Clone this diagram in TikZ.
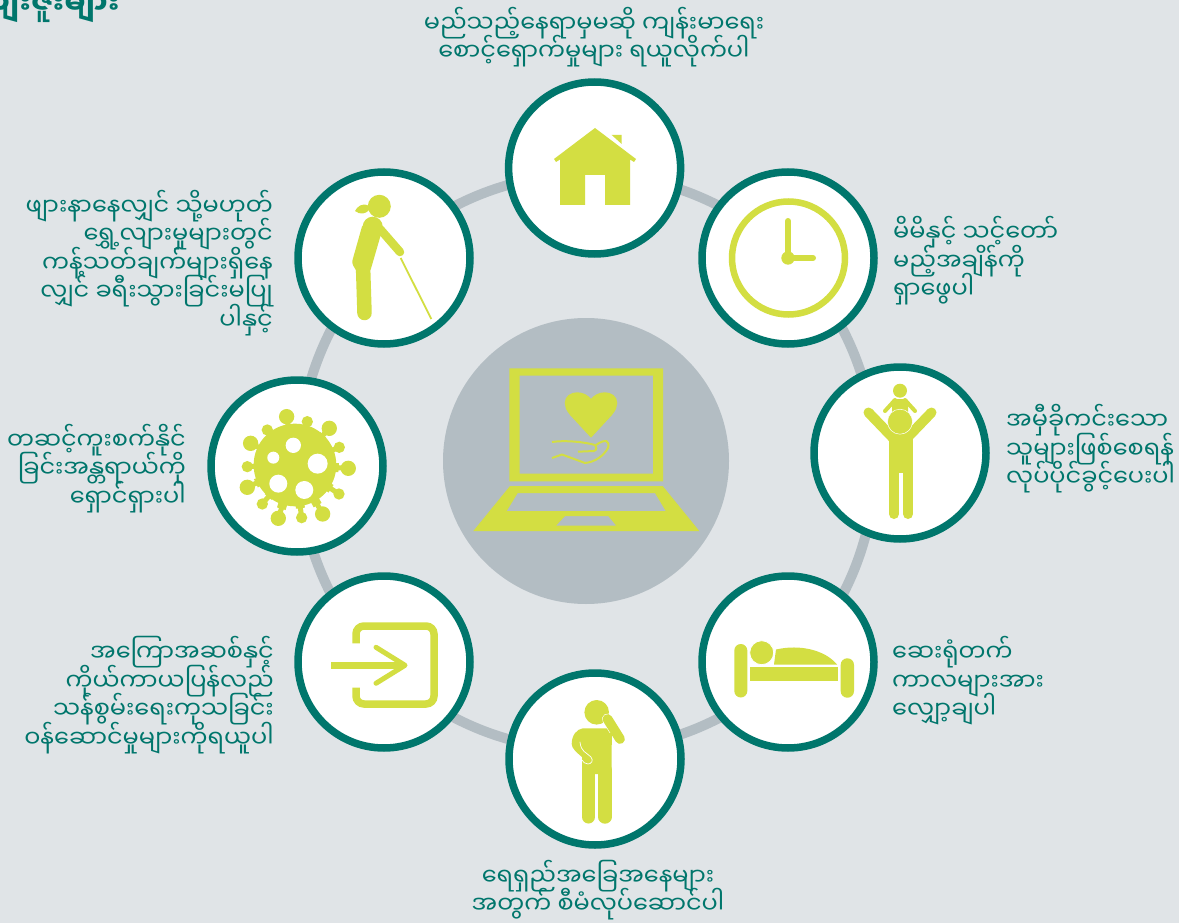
\documentclass[tikz,border=0pt]{standalone}
\usepackage{fontspec}
\usetikzlibrary{calc}
\newfontfamily\mm[Script=Myanmar]{Noto Sans Myanmar UI}
\definecolor{bgc}{HTML}{E0E4E7}
\definecolor{teal}{HTML}{00766C}
\definecolor{lime}{HTML}{D3DE42}
\definecolor{ringc}{HTML}{B3BDC3}
\newcommand\fl{\rule{0pt}{30pt}}
\newcommand\tightl{\lineskiplimit -1000pt\relax}
\tikzset{
  badge/.style={circle,draw=teal,line width=7.5pt,fill=white,minimum size=172pt,inner sep=0pt},
  lab/.style={text=teal,inner sep=0pt,font=\mm\fontsize{24}{28.5}\selectfont\tightl},
  wl/.style={draw=white,line width=0.7pt}
}
\begin{document}
\begin{tikzpicture}[x=1pt,y=-1pt,line cap=butt]
\useasboundingbox (0,0) rectangle (1179,923);
\clip (0,0) rectangle (1179,923);
\fill[bgc] (0,0) rectangle (1179,923);
\coordinate (cen) at (587,462);
\draw[ringc,line width=10pt] (cen) circle (288);
\node[circle,fill=ringc,minimum size=286pt,inner sep=0pt] (hub) at (586,461) {};
% badges
\node[badge] (home) at (594.6,168) {};
\node[badge] (clock) at (788,258) {};
\node[badge] (parent) at (900,453) {};
\node[badge] (bed) at (788,662) {};
\node[badge] (think) at (595,759) {};
\node[badge] (enter) at (384,662) {};
\node[badge] (virus) at (297,466) {};
\node[badge] (walk) at (384,258) {};
% laptop
\fill[lime,even odd rule] (509.3,368.3) rectangle (663,481.3) (519.7,375.7) rectangle (653,473.7);
\fill[lime,even odd rule] (510,486) -- (662.7,486) -- (699.3,531) -- (473.3,531) -- cycle
  (517.7,493) -- (655,493) -- (665.7,511) -- (506.7,511) -- cycle
  (565,516) -- (608.3,516) -- (616.3,525.7) -- (556,525.7) -- cycle;
\fill[lime] (591,437.7) -- (570,415) .. controls (566,410) and (564.7,407) .. (564.7,403) .. controls (564.7,396) and (571,392.3) .. (577,392.3) .. controls (583,392.3) and (588,395) .. (591,399) .. controls (594,395) and (599,392.3) .. (605,392.3) .. controls (611,392.3) and (617.3,396) .. (617.3,403) .. controls (617.3,407) and (616,410) .. (612,415) -- cycle;
\draw[lime,line width=2pt,line join=round] (552,442) .. controls (565,440) and (585,442) .. (595,445) .. controls (597,447) and (597,450) .. (594,451) -- (578,451.7);
\draw[lime,line width=2pt,line join=round] (552,458) -- (562,454.5) -- (585,463) .. controls (596,462) and (604,455) .. (608,448) .. controls (610,441) and (606,438) .. (596,445);
% house
\fill[lime] (595,128) -- (636,159) -- (634,162) -- (630,159.5) -- (630,205) -- (605,205) -- (605,175) -- (585,175) -- (585,205) -- (560,205) -- (560,159.5) -- (556,162) -- (554,159) -- cycle;
\fill[lime] (611.7,135) -- (621.7,135) -- (621.7,144) -- cycle;
% clock
\draw[lime,line width=6.5pt] (788.5,258) circle (56.5);
\draw[lime,line width=6pt,line cap=round] (788,221) -- (788,258) -- (813,258);
\fill[lime] (788,258) circle (6.7);
% parent and child
\fill[lime] (900,390.7) circle (7);
\draw[lime,line width=4pt,line cap=round] (895,400) -- (885,411);
\draw[lime,line width=4pt,line cap=round] (905,400) -- (915,411);
\fill[lime,rounded corners=2pt] (892,399) rectangle (908,415);
\draw[lime,line width=10pt,line cap=round] (868.5,412.5) -- (893,438);
\draw[lime,line width=10pt,line cap=round] (931.5,412.5) -- (907,438);
\fill[lime] (889,432) rectangle (913,473);
\draw[lime,line width=10pt,line cap=round] (894,465) -- (894,514);
\draw[lime,line width=10pt,line cap=round] (908,465) -- (908,514);
\fill[lime,draw=white,line width=0.5pt] (900,421.7) circle (12.5);
% bed
\fill[lime,rounded corners=6.5pt] (734.3,644) rectangle (747.3,697.5);
\fill[lime,rounded corners=6.5pt] (840.7,658.3) rectangle (854,697.7);
\fill[lime] (750,666.7) rectangle (837.7,681);
\fill[lime] (774,664.5) -- (776,649.5) .. controls (800,644) and (825,650) .. (837,664.5) -- cycle;
\fill[lime,draw=white,line width=0.8pt] (761.7,652.7) circle (12);
% thinking person
\fill[lime] (596.7,712.3) circle (12.3);
\fill[lime] (583,728.3) -- (611.7,728.3) -- (611.7,774) -- (582,774) -- (582,757) .. controls (576,752) and (571.7,748) .. (571.7,744) .. controls (571.7,735) and (577,729) .. (583,728.3) -- cycle;
\draw[lime,line width=13pt,line cap=round] (588.5,770) -- (588.5,817);
\draw[lime,line width=13.4pt,line cap=round] (605,770) -- (605,817);
\draw[wl,line cap=round] (580,742) .. controls (581,752) and (586,752) .. (591,757) .. controls (594,761) and (591,764) .. (588,764) .. controls (585,764) and (583,762) .. (582,760);
\draw[white,line width=11pt,line cap=round] (607.5,719) -- (620,739);
\draw[lime,line width=9.8pt,line cap=round] (607.5,719) -- (620,739);
\fill[lime] (611.7,733) rectangle (606,745);
% enter
\draw[lime,line width=7.5pt,rounded corners=8pt] (356,643.3) -- (356,626) -- (434,626) -- (434,704) -- (356,704) -- (356,687.7);
\draw[lime,line width=7.5pt] (331,665.5) -- (401,665.5);
\draw[lime,line width=5pt,line cap=round,line join=round] (376,647.3) -- (405,665.3) -- (376,683.3);
% virus
\begin{scope}[shift={(0,370)},scale=0.3333]
\coordinate (vc) at (885,285);
\fill[lime] (vc) circle (124);
\foreach \x/\y/\r in {860/140/23,922/155/17,988/175/23,1018/232/17,1045/295/23,1017/372/17,968/432/23,905/443/17,835/445/23,787/402/17,742/352/23,742/290/17,752/220/23,802/180/17}{
  \draw[lime,line width=5pt] (vc) -- (\x,\y);
  \draw[lime,line width=9pt] (vc) -- ($(vc)!0.82!(\x,\y)$);
  \fill[lime] (\x,\y) circle (\r);
}
\foreach \x/\y/\r in {880/226/23,820/263/18,953/281/30,835/341/27,913/360/27}{
  \fill[white] (\x,\y) circle (\r);
}
\end{scope}
% walker
\fill[lime] (379.3,206.3) circle (11.5);
\fill[lime] (369,206) .. controls (362,202) and (357,207) .. (355,211) .. controls (360,215) and (366,214) .. (369,210) -- cycle;
\draw[lime,line width=1.8pt] (400.7,258) -- (431.3,319);
\draw[lime,line width=8.5pt,line cap=round] (380,229) -- (400,252);
\fill[lime] (372.7,226.7) circle (10);
\fill[lime,rounded corners=3pt] (362.7,224) -- (382.5,229) -- (370,272) -- (357,272) -- (351.7,263) -- cycle;
\draw[lime,line width=14.5pt,line cap=round] (363,265) -- (364.5,313);
% labels
\node[lab,anchor=north east,align=right,font=\mm\fontsize{30}{30}\selectfont\bfseries] (ltitle) at (120,-17) {\fl အကျိုးကျေးဇူးများ};
\node[lab,anchor=north,align=center] (lhome) at (594,2) {\fl မည်သည့်နေရာမှမဆို ကျန်းမာရေး\\စောင့်ရှောက်မှုများ ရယူလိုက်ပါ};
\node[lab,anchor=north west,align=left] (lclock) at (893,211.5) {\fl မိမိနှင့် သင့်တော်\\မည့်အချိန်ကို\\ရှာဖွေပါ};
\node[lab,anchor=north west,align=left] (lparent) at (1006,399.5) {\fl အမှီခိုကင်းသော\\သူများဖြစ်စေရန်\\လုပ်ပိုင်ခွင့်ပေးပါ};
\node[lab,anchor=north west,align=left] (lbed) at (892,631.5) {\fl ဆေးရုံတက်\\ကာလများအား\\လျှော့ချပါ};
\node[lab,anchor=north,align=center] (lthink) at (598,855) {\fl ရေရှည်အခြေအနေများ\\အတွက် စီမံလုပ်ဆောင်ပါ};
\node[lab,anchor=north east,align=right] (lenter) at (274,631.5) {\fl အကြောအဆစ်နှင့်\\ကိုယ်ကာယပြန်လည်\\သန်စွမ်းရေးကုသခြင်း\\ဝန်ဆောင်မှုများကိုရယူပါ};
\node[lab,anchor=north east,align=right] (lvirus) at (186,419) {\fl တဆင့်ကူးစက်နိုင်\\ခြင်းအန္တရာယ်ကို\\ရှောင်ရှားပါ};
\node[lab,anchor=north east,align=right] (lwalk) at (273,185) {\fl ဖျားနာနေလျှင် သို့မဟုတ်\\ရွှေ့လျားမှုများတွင်\\ကန့်သတ်ချက်များရှိနေ\\လျှင် ခရီးသွားခြင်းမပြု\\ပါနှင့်};
\end{tikzpicture}
\end{document}
